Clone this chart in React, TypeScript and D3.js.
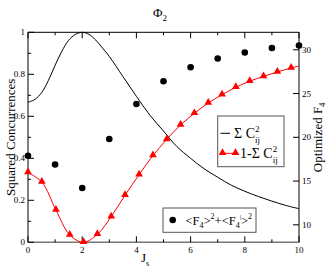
import React from 'react'
import * as d3 from 'd3'

// Σ C²ij (black line)
const sumX = [0, 0.25, 0.5, 0.75, 1, 1.25, 1.5, 1.75, 2, 2.25, 2.5, 2.75, 3, 3.5, 4, 4.5, 5, 5.5, 6, 6.5, 7, 7.5, 8, 8.5, 9, 9.5, 10]
const sumY = [0.667, 0.68, 0.712, 0.77, 0.843, 0.91, 0.962, 0.99, 1.0, 0.99, 0.963, 0.925, 0.885, 0.79, 0.695, 0.605, 0.53, 0.455, 0.4, 0.35, 0.31, 0.272, 0.243, 0.218, 0.196, 0.176, 0.16]

// 1-Σ C²ij (red triangles)
const oneX = [0, 0.51, 1.03, 1.54, 2.05, 2.56, 3.07, 3.58, 4.1, 4.61, 5.12, 5.63, 6.14, 6.65, 7.16, 7.67, 8.18, 8.69, 9.2, 9.71]
const oneY = [0.332, 0.287, 0.154, 0.035, 0.0, 0.038, 0.122, 0.224, 0.322, 0.413, 0.49, 0.559, 0.614, 0.663, 0.703, 0.738, 0.767, 0.79, 0.811, 0.83]
const oneEndX = 10
const oneEndY = 0.84

// <F4>^2 + <F4|>^2 (black dots, right axis)
const f4X = [0, 1, 2, 3, 4, 5, 6, 7, 8, 9, 10]
const f4Y = [17.9, 16.9, 14.2, 19.8, 23.8, 26.4, 28.0, 29.0, 29.7, 30.2, 30.5]

const xTicks = [0, 2, 4, 6, 8, 10]
const yTicks = [0, 0.2, 0.4, 0.6, 0.8, 1]
const y2Ticks = [10, 15, 20, 25, 30]

const font = 'Liberation Serif, Times New Roman, serif'

export default function App() {
  const W = 327
  const H = 269
  const left = 28
  const right = 299
  const top = 32.3
  const bottom = 242.3

  const x = d3.scaleLinear().domain([0, 10]).range([left, right])
  const y = d3.scaleLinear().domain([0, 1]).range([bottom, top])
  const y2 = d3.scaleLinear().domain([8, 32]).range([bottom, top])

  const sumLine = d3
    .line<number>()
    .x((d, i) => x(sumX[i]))
    .y((d) => y(d))
    .curve(d3.curveCatmullRom)(sumY)

  const redPts: [number, number][] = oneX.map((v, i) => [v, oneY[i]])
  redPts.push([oneEndX, oneEndY])
  const redLine = d3
    .line<[number, number]>()
    .x((d) => x(d[0]))
    .y((d) => y(d[1]))
    .curve(d3.curveCatmullRom)(redPts)

  const tri = d3.symbol().type(d3.symbolTriangle).size(26)()

  const minorX = d3.range(1, 10, 2)
  const minorY = d3.range(0.1, 1, 0.2)

  return (
    <svg width={W} height={H} style={{ position: 'absolute', left: 0, top: 0 }} fontFamily={font}>
      <rect width={W} height={H} fill="#fff" />

      {/* title */}
      <text x={153} y={17} fontSize={13}>
        Φ<tspan fontSize={9} dy={4}>2</tspan>
      </text>

      {/* frame */}
      <line x1={left} x2={right} y1={top} y2={top} stroke="#000" />
      <line x1={left} x2={left} y1={top} y2={bottom} stroke="#000" />
      <line x1={right} x2={right} y1={top} y2={bottom} stroke="#000" />
      <line x1={left} x2={right} y1={bottom} y2={bottom} stroke="#777" strokeWidth={1.6} />

      {/* x ticks bottom & top */}
      {xTicks.map((t) => (
        <g key={'x' + t}>
          <line x1={x(t)} x2={x(t)} y1={bottom} y2={bottom - 6} stroke="#000" />
          <line x1={x(t)} x2={x(t)} y1={top} y2={top + 6} stroke="#000" />
          <text x={x(t)} y={253} fontSize={9} textAnchor="middle">
            {t}
          </text>
        </g>
      ))}
      {minorX.map((t) => (
        <g key={'mx' + t}>
          <line x1={x(t)} x2={x(t)} y1={bottom} y2={bottom - 3} stroke="#000" />
          <line x1={x(t)} x2={x(t)} y1={top} y2={top + 3} stroke="#000" />
        </g>
      ))}

      {/* left y ticks */}
      {yTicks.map((t) => (
        <g key={'y' + t}>
          <line x1={left} x2={left + 6} y1={y(t)} y2={y(t)} stroke="#000" />
          <text x={25} y={y(t) + 3} fontSize={9} textAnchor="end">
            {t}
          </text>
        </g>
      ))}
      {minorY.map((t) => (
        <line key={'my' + t} x1={left} x2={left + 3} y1={y(t)} y2={y(t)} stroke="#000" />
      ))}

      {/* right y ticks */}
      {y2Ticks.map((t) => (
        <g key={'y2' + t}>
          <line x1={right} x2={right - 6} y1={y2(t)} y2={y2(t)} stroke="#000" />
          <text x={302} y={y2(t) + 3} fontSize={9}>
            {t}
          </text>
        </g>
      ))}

      {/* axis labels */}
      <text x={141} y={262} fontSize={13}>
        J<tspan fontSize={8} dy={4}>s</tspan>
      </text>
      <text transform={`translate(15,${(top + bottom) / 2}) rotate(-90)`} fontSize={13} textAnchor="middle">
        Squared Concurrences
      </text>
      <text transform={`translate(322,${(top + bottom) / 2}) rotate(-90)`} fontSize={13} textAnchor="middle">
        Optimized F<tspan fontSize={9} dy={3}>4</tspan>
      </text>

      {/* data */}
      <path d={sumLine || ''} fill="none" stroke="#000" strokeWidth={1} />
      <path d={redLine || ''} fill="none" stroke="#f00" strokeWidth={1} />
      {oneX.map((v, i) => (
        <path key={'t' + i} d={tri || ''} transform={`translate(${x(v)},${y(oneY[i]) - 0.5})`} fill="#f00" />
      ))}
      {f4X.map((v, i) => (
        <circle key={'c' + i} cx={x(v)} cy={y2(f4Y[i])} r={3.3} fill="#000" />
      ))}

      {/* legend 1 */}
      <rect x={217.7} y={116} width={66.3} height={50.7} fill="#fff" stroke="#555" />
      <line x1={220.5} x2={230} y1={133.3} y2={133.3} stroke="#000" />
      <text x={234} y={138} fontSize={14}>
        Σ C<tspan fontSize={9} dy={-6.5}>2</tspan>
        <tspan fontSize={9} dy={11} dx={-4.5}>ij</tspan>
      </text>
      <line x1={222.5} x2={235.5} y1={153.3} y2={153.3} stroke="#f00" />
      <path d={tri || ''} transform={`translate(222.5,152.8)`} fill="#f00" />
      <path d={tri || ''} transform={`translate(235.5,152.8)`} fill="#f00" />
      <text x={240} y={158} fontSize={14}>
        1-Σ C<tspan fontSize={9} dy={-6.5}>2</tspan>
        <tspan fontSize={9} dy={11} dx={-4.5}>ij</tspan>
      </text>

      {/* legend 2 */}
      <rect x={163} y={208} width={93} height={24.3} fill="#fff" stroke="#555" />
      <circle cx={172.7} cy={220} r={3.3} fill="#000" />
      <text x={185.5} y={224.5} fontSize={12.5}>
        {'<F'}
        <tspan fontSize={8} dy={3}>4</tspan>
        <tspan dy={-3}>{'>'}</tspan>
        <tspan fontSize={8} dy={-6}>2</tspan>
        <tspan dy={6}>{'+<F'}</tspan>
        <tspan fontSize={8} dy={3}>4</tspan>
        <tspan fontSize={7} dy={-9}>|</tspan>
        <tspan dy={6}>{'>'}</tspan>
        <tspan fontSize={8} dy={-6}>2</tspan>
      </text>
    </svg>
  )
}
